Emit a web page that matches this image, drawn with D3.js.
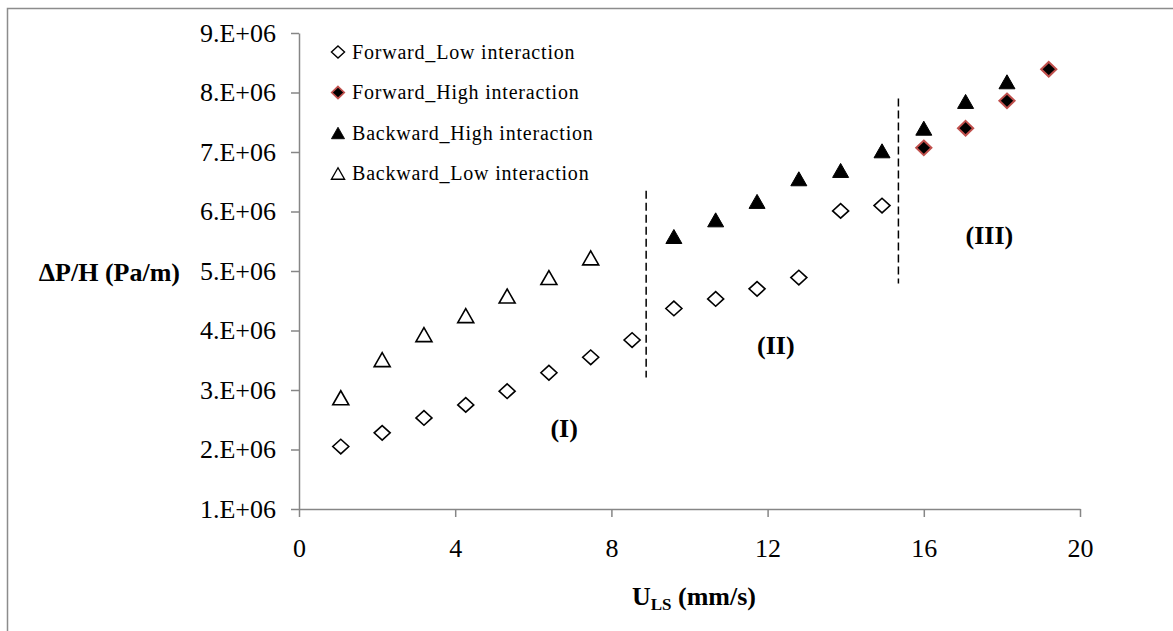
<!DOCTYPE html>
<html>
<head>
<meta charset="utf-8">
<script src="https://cdn.jsdelivr.net/npm/d3@7"></script>
<style>
body { margin: 0; background: #fff; }
text { font-family: "Liberation Serif", "Times New Roman", serif; fill: #000; }
</style>
</head>
<body>
<div id="chart"></div>
<script>
// valores (U_LS en mm/s, dP/H en Pa/m)
const uForwardLow = [1.07, 2.13, 3.2, 4.27, 5.33, 6.4, 7.47, 8.53, 9.6, 10.67, 11.73, 12.8, 13.87, 14.93]
const dpForwardLow = [2.05e6, 2.28e6, 2.53e6, 2.75e6, 2.98e6, 3.29e6, 3.55e6, 3.84e6, 4.37e6, 4.53e6, 4.70e6, 4.89e6, 6.01e6, 6.10e6]

const uForwardHigh = [16, 17.07, 18.13, 19.2]
const dpForwardHigh = [7.07e6, 7.40e6, 7.86e6, 8.39e6]

const uBackwardHigh = [9.6, 10.67, 11.73, 12.8, 13.87, 14.93, 16, 17.07, 18.13]
const dpBackwardHigh = [5.58e6, 5.86e6, 6.17e6, 6.55e6, 6.69e6, 7.02e6, 7.40e6, 7.85e6, 8.18e6]

const uBackwardLow = [1.07, 2.13, 3.2, 4.27, 5.33, 6.4, 7.47]
const dpBackwardLow = [2.87e6, 3.51e6, 3.93e6, 4.25e6, 4.58e6, 4.89e6, 5.22e6]

const xTicks = [0, 4, 8, 12, 16, 20]
const yTicks = [1e6, 2e6, 3e6, 4e6, 5e6, 6e6, 7e6, 8e6, 9e6]

const seriesNames = ["Forward_Low interaction", "Forward_High interaction", "Backward_High interaction", "Backward_Low interaction"]

// limites de regimen (lineas discontinuas) y etiquetas
const boundaryU = [8.89, 15.35]
const boundaryLow = [3.21e6, 4.79e6]
const boundaryHigh = [6.35e6, 7.90e6]
const regionLabels = ["(I)", "(II)", "(III)"]
const regionU = [6.79, 12.21, 17.68]
const regionDp = [2.21e6, 3.605e6, 5.45e6]

// boceto
const width = 1173
const height = 631
const margin = { top: 33, bottom: 122, left: 299, right: 93 }
const innerW = width - margin.left - margin.right
const innerH = height - margin.top - margin.bottom

const svg = d3.select("#chart")
    .append("svg")
    .attr("width", width)
    .attr("height", height)

// marco gris (solo arriba e izquierda)
svg.append("path")
    .attr("d", `M7.5,${height} V8.5 H${width}`)
    .attr("fill", "none")
    .attr("stroke", "#8c8c8c")
    .attr("stroke-width", 1.5)

const elementGroup = svg.append("g")
    .attr("transform", `translate(${margin.left}, ${margin.top})`)

// escalas
const x = d3.scaleLinear().domain([0, 20]).range([0, innerW])
const y = d3.scaleLinear().domain([1e6, 9e6]).range([innerH, 0])

// ejes
const xAxis = d3.axisBottom(x).tickValues(xTicks).tickSizeInner(8).tickSizeOuter(0)
    .tickPadding(21.5).tickFormat(d3.format("d"))
const yAxis = d3.axisLeft(y).tickValues(yTicks).tickSizeInner(8).tickSizeOuter(0)
    .tickPadding(15).tickFormat(d => (d / 1e6) + ".E+06")

const xAxisGroup = elementGroup.append("g")
    .attr("transform", `translate(0, ${innerH})`)
    .call(xAxis)
const yAxisGroup = elementGroup.append("g").call(yAxis)

for (const g of [xAxisGroup, yAxisGroup]) {
    g.selectAll("path, line").attr("stroke", "#868686").attr("stroke-width", 1.5)
    g.selectAll("text").attr("font-size", 26).attr("fill", "#000")
        .attr("font-family", "Liberation Serif, serif")
}

// titulos de ejes
svg.append("text")
    .attr("x", 180)
    .attr("y", 280.5)
    .attr("text-anchor", "end")
    .attr("font-size", 26)
    .attr("font-weight", "bold")
    .text("ΔP/H (Pa/m)")

const xTitle = svg.append("text")
    .attr("x", 694)
    .attr("y", 605)
    .attr("text-anchor", "middle")
    .attr("font-size", 26)
    .attr("font-weight", "bold")
xTitle.append("tspan").text("U")
xTitle.append("tspan").attr("font-size", 17).attr("dy", 5).text("LS")
xTitle.append("tspan").attr("dy", -5).text(" (mm/s)")

// marcadores
const diamond = (w, h) => `M0,${-h}L${w},0L0,${h}L${-w},0Z`
const triangle = (w, h) => `M0,${-h / 2}L${w / 2},${h / 2}L${-w / 2},${h / 2}Z`

const series = [
    { u: uForwardLow, dp: dpForwardLow, shape: s => diamond(8 * s, 7.3 * s), fill: "#fff", stroke: "#000", sw: 1.6 },
    { u: uForwardHigh, dp: dpForwardHigh, shape: s => diamond(7.6 * s, 7.3 * s), fill: "#000", stroke: "#c0504d", sw: 2 },
    { u: uBackwardHigh, dp: dpBackwardHigh, shape: s => triangle(16 * s, 14 * s), fill: "#000", stroke: "#000", sw: 1 },
    { u: uBackwardLow, dp: dpBackwardLow, shape: s => triangle(16 * s, 14 * s), fill: "#fff", stroke: "#000", sw: 1.6 }
]

series.forEach(s => {
    const datos = s.u.map((u, i) => ({ u: u, dp: s.dp[i] }))
    elementGroup.append("g").selectAll("path").data(datos)
        .enter()
        .append("path")
        .attr("d", s.shape(1))
        .attr("transform", d => `translate(${x(d.u)}, ${y(d.dp)})`)
        .attr("fill", s.fill)
        .attr("stroke", s.stroke)
        .attr("stroke-width", s.sw)
        .attr("stroke-linejoin", "miter")
})

// lineas discontinuas
elementGroup.selectAll(".boundary").data(boundaryU)
    .enter()
    .append("line")
    .attr("class", "boundary")
    .attr("x1", d => x(d)).attr("x2", d => x(d))
    .attr("y1", (d, i) => y(boundaryHigh[i]))
    .attr("y2", (d, i) => y(boundaryLow[i]))
    .attr("stroke", "#000")
    .attr("stroke-width", 1.5)
    .attr("stroke-dasharray", "8,4")

// etiquetas de regimen
elementGroup.selectAll(".region").data(regionLabels)
    .enter()
    .append("text")
    .attr("class", "region")
    .attr("x", (d, i) => x(regionU[i]))
    .attr("y", (d, i) => y(regionDp[i]))
    .attr("text-anchor", "middle")
    .attr("font-size", 26)
    .attr("font-weight", "bold")
    .text(d => d)

// leyenda
const legend = svg.append("g").attr("transform", "translate(338, 52)")
const legendRows = legend.selectAll("g").data(seriesNames)
    .enter()
    .append("g")
    .attr("transform", (d, i) => `translate(0, ${i * 40.5})`)
legendRows.append("path")
    .attr("d", (d, i) => series[i].shape(0.82))
    .attr("fill", (d, i) => series[i].fill)
    .attr("stroke", (d, i) => series[i].stroke)
    .attr("stroke-width", (d, i) => series[i].sw * 0.85)
legendRows.append("text")
    .attr("x", 14)
    .attr("y", 6.5)
    .attr("font-size", 20)
    .attr("letter-spacing", 0.8)
    .text(d => d)
</script>
</body>
</html>
